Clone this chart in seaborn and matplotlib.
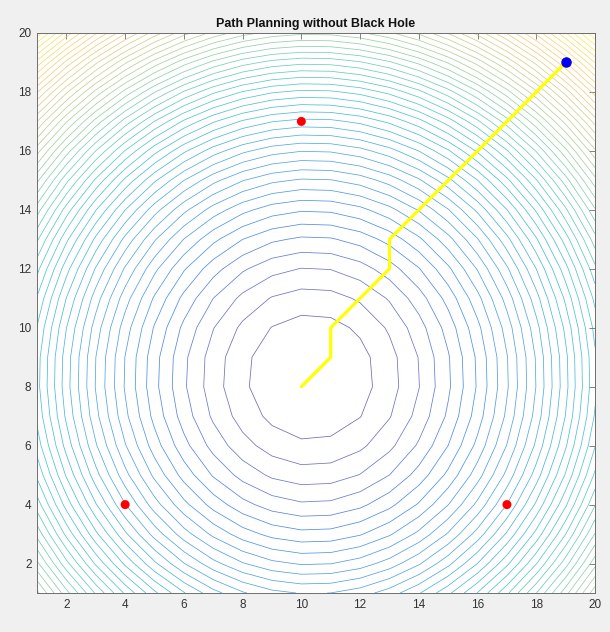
import numpy as np
import pandas as pd
import matplotlib
matplotlib.use("Agg")
import matplotlib.pyplot as plt
from matplotlib.colors import LinearSegmentedColormap, Normalize
import seaborn as sns

# Obstacles (red), goal (blue) and the planned path (yellow)
obstacle_x = [10, 4, 17]
obstacle_y = [17, 4, 4]
goal_x = [19]
goal_y = [19]
path_x = [10, 11, 11, 12, 13, 13, 14, 15, 16, 17, 18, 19]
path_y = [8, 9, 10, 11, 12, 13, 14, 15, 16, 17, 18, 19]

grid = np.arange(1, 21)
x_ticks = list(range(2, 21, 2))
y_ticks = list(range(2, 21, 2))
n_levels = 50

# Potential field: summed squared distance to every obstacle, on the integer grid
X, Y = np.meshgrid(grid, grid)
Z = np.zeros_like(X, dtype=float)
for ox, oy in zip(obstacle_x, obstacle_y):
    Z += (X - ox) ** 2 + (Y - oy) ** 2

# parula-like colormap
parula_pts = [
    (0.2081, 0.1663, 0.5292), (0.1959, 0.2645, 0.7279), (0.0117, 0.3875, 0.8820),
    (0.0629, 0.4737, 0.8554), (0.0793, 0.5200, 0.8312), (0.0343, 0.5966, 0.8199),
    (0.0228, 0.6535, 0.7768), (0.0843, 0.6928, 0.7062), (0.2178, 0.7250, 0.6193),
    (0.3953, 0.7459, 0.5244), (0.5709, 0.7485, 0.4494), (0.7184, 0.7411, 0.3905),
    (0.8507, 0.7299, 0.3360), (0.9739, 0.7314, 0.2666), (0.9955, 0.7861, 0.1967),
    (0.9626, 0.8705, 0.1309), (0.9763, 0.9831, 0.0538),
]
parula = LinearSegmentedColormap.from_list("parula", parula_pts)

sns.set_theme(style="white")
plt.rcParams["font.family"] = ["Liberation Sans", "DejaVu Sans"]

fig = plt.figure(figsize=(6.10, 6.32), dpi=100, facecolor="#f0f0f0")
ax = fig.add_axes([0.0607, 0.0617, 0.9148, 0.8861])
ax.set_facecolor("white")

levels = np.linspace(Z.min(), Z.max(), n_levels + 2)[1:-1]
ax.contour(X, Y, Z, levels=levels, cmap=parula,
           norm=Normalize(vmin=Z.min(), vmax=Z.max()),
           linewidths=0.55, alpha=0.72)

path_df = pd.DataFrame({"x": path_x, "y": path_y})
sns.lineplot(data=path_df, x="x", y="y", sort=False, estimator=None,
             color=(1, 1, 0), linewidth=2.3, ax=ax)

obs_df = pd.DataFrame({"x": obstacle_x, "y": obstacle_y})
sns.scatterplot(data=obs_df, x="x", y="y", color=(1, 0, 0), s=42,
                edgecolor="none", ax=ax, zorder=5)
goal_df = pd.DataFrame({"x": goal_x, "y": goal_y})
sns.scatterplot(data=goal_df, x="x", y="y", color=(0, 0, 1), s=45,
                edgecolor=(0, 0, 0.8), linewidth=0.8, ax=ax, zorder=5)

ax.set_xlim(1, 20)
ax.set_ylim(1, 20)
ax.set_xticks(x_ticks)
ax.set_yticks(y_ticks)
ax.set_xlabel("")
ax.set_ylabel("")
ax.tick_params(direction="in", length=4, width=0.6, colors="#6e6e6e",
               labelcolor="#333333", labelsize=8.5, top=True, right=True, pad=4)
for sp in ax.spines.values():
    sp.set_color("#6e6e6e")
    sp.set_linewidth(0.7)

ax.set_title("Path Planning without Black Hole", fontsize=9, fontweight="bold",
             color="#111111", pad=4)

fig.savefig("out.png", dpi=100, facecolor=fig.get_facecolor())
